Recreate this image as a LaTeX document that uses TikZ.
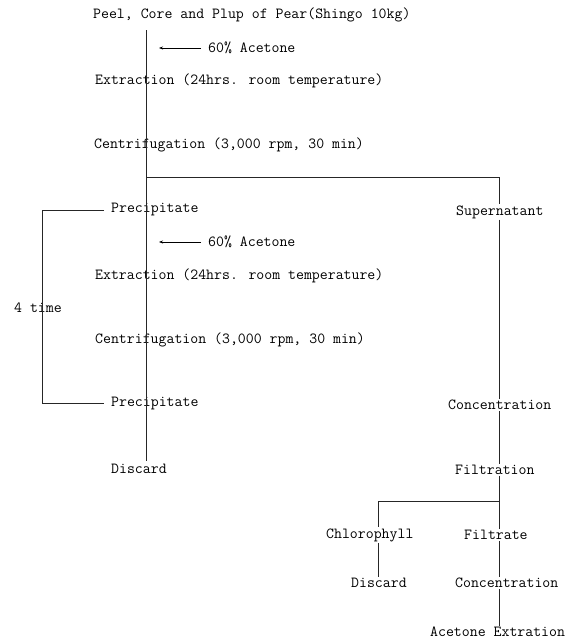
\documentclass[tikz,border=0pt]{standalone}
\usetikzlibrary{arrows.meta,calc}
\begin{document}
\begin{tikzpicture}[x=1pt,y=1pt,
  lbl/.style={font=\ttfamily\fontsize{15.4}{18}\selectfont, inner sep=1pt, anchor=west},
  conn/.style={line width=0.8pt, draw=black!85},
  addarrow/.style={line width=0.8pt, -{Stealth[length=4pt,width=3pt]}}]
\useasboundingbox (0,0) rectangle (576,-642);
\coordinate (spine) at (146,0);
\coordinate (rx) at (499,0);
\coordinate (lx) at (378,0);
\coordinate (bx) at (42,0);
% nodes
\node[lbl] (title) at (92,-15) {Peel, Core and Plup of Pear(Shingo 10kg)};
\node[lbl] (ac1) at (207,-48) {60\% Acetone};
\node[lbl] (ext1) at (94,-81) {Extraction (24hrs. room temperature)};
\node[lbl] (cen1) at (93,-145) {Centrifugation (3,000 rpm, 30 min)};
\node[lbl] (prec1) at (110,-210) {Precipitate};
\node[lbl] (sup) at (455,-212) {Supernatant};
\node[lbl] (ac2) at (207,-242) {60\% Acetone};
\node[lbl] (ext2) at (94,-276) {Extraction (24hrs. room temperature)};
\node[lbl] (times) at (13,-308) {4 time};
\node[lbl] (cen2) at (94,-340) {Centrifugation (3,000 rpm, 30 min)};
\node[lbl] (prec2) at (110,-403) {Precipitate};
\node[lbl] (conc1) at (447,-405) {Concentration};
\node[lbl] (disc1) at (110,-469) {Discard};
\node[lbl] (filt) at (454,-470) {Filtration};
\node[lbl] (chl) at (325,-535) {Chlorophyll};
\node[lbl] (filtr) at (463,-535) {Filtrate};
\node[lbl] (disc2) at (350,-583) {Discard};
\node[lbl] (conc2) at (454,-583) {Concentration};
\node[lbl] (aext) at (429,-632) {Acetone Extration};
\coordinate (sp1) at ($(spine)+(0,-177)$);
\coordinate (sp1r) at ($(rx)+(0,-177)$);
\coordinate (sp2r) at ($(rx)+(0,-501)$);
\coordinate (sp2l) at ($(lx)+(0,-501)$);
% left spine
\draw[conn] ([yshift=-7pt]title.south -| spine) -- ([yshift=2pt]disc1.north -| spine);
% acetone arrows
\draw[addarrow] ([xshift=-6pt]ac1.west) -- ([xshift=13pt]ac1.west -| spine);
\draw[addarrow] ([xshift=-6pt]ac2.west) -- ([xshift=13pt]ac2.west -| spine);
% split to supernatant
\draw[conn] (sp1) -- (sp1r) -- (sup.north -| rx);
% bracket loop
\draw[conn] ([xshift=-6pt]prec1.west) -- (prec1.west -| bx)
  -- (prec2.west -| bx) -- ([xshift=-6pt]prec2.west);
% right column
\draw[conn] (sup.south -| rx) -- (conc1.north -| rx);
\draw[conn] (conc1.south -| rx) -- (filt.north -| rx);
\draw[conn] (filt.south -| rx) -- (sp2r) -- (sp2l) -- (chl.north -| lx);
\draw[conn] (sp2r) -- (filtr.north -| rx);
\draw[conn] (chl.south -| lx) -- (disc2.north -| lx);
\draw[conn] (filtr.south -| rx) -- (conc2.north -| rx);
\draw[conn] (conc2.south -| rx) -- (aext.north -| rx);
\end{tikzpicture}
\end{document}
